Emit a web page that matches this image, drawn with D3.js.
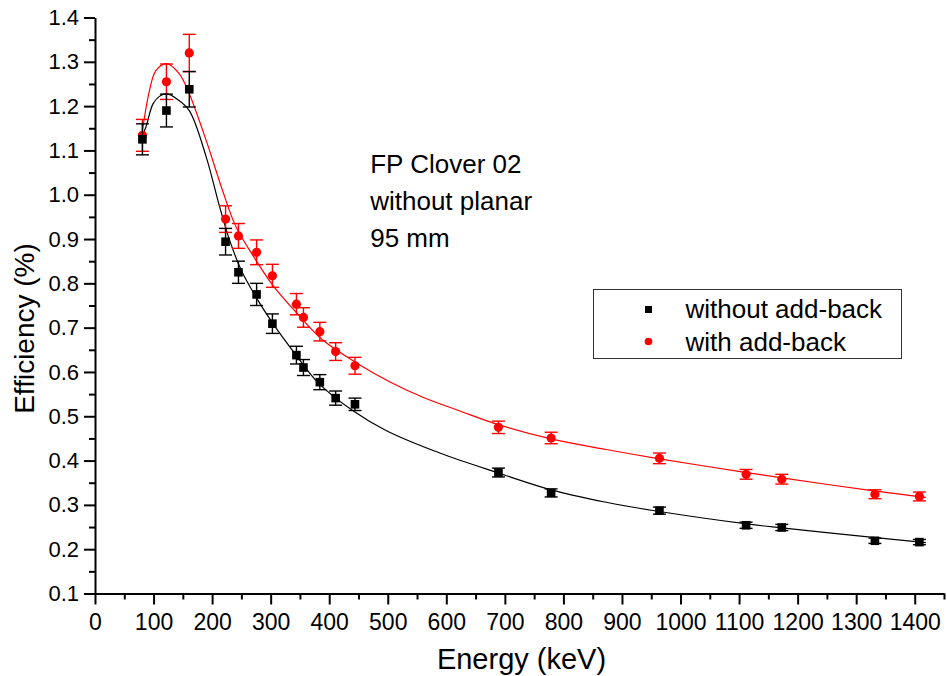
<!DOCTYPE html>
<html>
<head>
<meta charset="utf-8">
<script src="https://cdn.jsdelivr.net/npm/d3@7"></script>
<style>
    body { margin: 0; background: #fff; }
    #chart { width: 947px; height: 676px; }
    text { font-family: "Liberation Sans", Arial, sans-serif; fill: #000; }
</style>
</head>
<body>
<div id="chart"></div>
<script>
// measured points (keV, efficiency %)
const energies = [81, 122, 161, 223, 245, 276, 303, 344, 356, 384, 411, 444, 689, 779, 964, 1112, 1173, 1332, 1408];
const effNoAddback = [1.125, 1.190, 1.238, 0.894, 0.825, 0.775, 0.709, 0.638, 0.610, 0.577, 0.541, 0.527, 0.373, 0.327, 0.287, 0.254, 0.249, 0.219, 0.216];
const errNoAddback = [0.035, 0.037, 0.040, 0.030, 0.025, 0.025, 0.022, 0.020, 0.018, 0.017, 0.016, 0.014, 0.010, 0.009, 0.008, 0.007, 0.007, 0.006, 0.006];
const effAddback = [1.134, 1.255, 1.320, 0.945, 0.907, 0.870, 0.817, 0.753, 0.723, 0.691, 0.646, 0.614, 0.475, 0.451, 0.405, 0.369, 0.358, 0.324, 0.319];
const errAddback = [0.036, 0.040, 0.042, 0.030, 0.028, 0.028, 0.026, 0.024, 0.022, 0.021, 0.020, 0.019, 0.014, 0.013, 0.012, 0.011, 0.011, 0.010, 0.010];

// fit curves
const fitEnergyNoAddback = [81, 87, 99, 110, 122, 140, 161, 190, 213, 230, 250, 275, 304, 344, 383, 440, 497, 589, 689, 779, 873, 964, 1113, 1173, 1333, 1419];
const fitNoAddback = [1.134, 1.153, 1.205, 1.222, 1.228, 1.216, 1.190, 1.085, 0.972, 0.897, 0.829, 0.769, 0.709, 0.637, 0.573, 0.513, 0.468, 0.417, 0.372, 0.334, 0.306, 0.285, 0.257, 0.248, 0.226, 0.215];
const fitEnergyAddback = [81, 93, 104, 122, 144, 161, 190, 218, 241, 275, 304, 346, 389, 446, 503, 560, 623, 689, 779, 873, 964, 1113, 1173, 1333, 1419];
const fitAddback = [1.145, 1.235, 1.280, 1.296, 1.273, 1.228, 1.122, 1.009, 0.927, 0.852, 0.795, 0.731, 0.672, 0.621, 0.578, 0.543, 0.512, 0.481, 0.449, 0.425, 0.404, 0.373, 0.361, 0.331, 0.317];

const xTicks = d3.range(0, 1401, 100);
const yTicks = d3.range(1, 15).map(d => d / 10);

const seriesNames = ["without add-back", "with add-back"];
const annotation = ["FP Clover 02", "without planar", "95 mm"];

class EfficiencyChart {

    constructor(parentElement) {
        this.parentElement = parentElement;
        this.initVis();
    }

    initVis() {
        let vis = this;

        vis.margin = {top: 17.5, right: 3, bottom: 82.5, left: 95};
        vis.width = 947 - vis.margin.left - vis.margin.right;
        vis.height = 676 - vis.margin.top - vis.margin.bottom;

        vis.svg = d3.select("#" + vis.parentElement).append("svg")
            .attr("width", 947)
            .attr("height", 676)
            .append("g")
            .attr("transform", "translate(" + vis.margin.left + "," + vis.margin.top + ")");

        vis.x = d3.scaleLinear().domain([0, 1450]).range([0, vis.width]);
        vis.y = d3.scaleLinear().domain([0.1, 1.4]).range([vis.height, 0]);

        // minor ticks first, then major axes on top
        vis.svg.append("g")
            .attr("class", "axis minor")
            .attr("transform", "translate(0," + vis.height + ")")
            .call(d3.axisBottom(vis.x).tickValues(d3.range(50, 1451, 100)).tickSize(6).tickFormat(""));
        vis.svg.append("g")
            .attr("class", "axis minor")
            .call(d3.axisLeft(vis.y).tickValues(d3.range(0.15, 1.4, 0.1)).tickSize(6).tickFormat(""));

        vis.xAxis = vis.svg.append("g")
            .attr("class", "axis x-axis")
            .attr("transform", "translate(0," + vis.height + ")")
            .call(d3.axisBottom(vis.x).tickValues(xTicks).tickSize(11).tickSizeOuter(0).tickPadding(9)
                .tickFormat(d3.format("d")));
        vis.yAxis = vis.svg.append("g")
            .attr("class", "axis y-axis")
            .call(d3.axisLeft(vis.y).tickValues(yTicks).tickSize(11).tickSizeOuter(0).tickPadding(5)
                .tickFormat(d3.format(".1f")));

        vis.svg.selectAll(".axis path, .axis line")
            .attr("stroke", "#000")
            .attr("stroke-width", 2);
        vis.svg.selectAll(".minor path").remove();
        vis.xAxis.selectAll("text").style("font-size", "23px").attr("dy", "0.71em");
        vis.yAxis.selectAll("text").style("font-size", "22px");

        // axis titles
        vis.svg.append("text")
            .attr("x", vis.width / 2 + 2)
            .attr("y", vis.height + 75)
            .attr("text-anchor", "middle")
            .style("font-size", "29px")
            .text("Energy (keV)");
        vis.svg.append("text")
            .attr("transform", "translate(" + (-61) + "," + (vis.height / 2 + 23) + ") rotate(-90)")
            .attr("text-anchor", "middle")
            .style("font-size", "28px")
            .text("Efficiency (%)");

        vis.line = d3.line()
            .x(d => vis.x(d[0]))
            .y(d => vis.y(d[1]))
            .curve(d3.curveCatmullRom.alpha(0.5));

        vis.updateVis();
    }

    updateVis() {
        let vis = this;

        let fitBlack = d3.zip(fitEnergyNoAddback, fitNoAddback);
        let fitRed = d3.zip(fitEnergyAddback, fitAddback);

        vis.svg.append("path")
            .datum(fitBlack)
            .attr("fill", "none")
            .attr("stroke", "#000")
            .attr("stroke-width", 1.2)
            .attr("d", vis.line);
        vis.svg.append("path")
            .datum(fitRed)
            .attr("fill", "none")
            .attr("stroke", "#ff0000")
            .attr("stroke-width", 1.2)
            .attr("d", vis.line);

        let red = energies.map((e, i) => ({e: e, v: effAddback[i], err: errAddback[i]}));
        let black = energies.map((e, i) => ({e: e, v: effNoAddback[i], err: errNoAddback[i]}));

        vis.drawSeries(red, "#ff0000", "circle");
        vis.drawSeries(black, "#000", "square");

        // annotation
        vis.svg.append("text")
            .attr("x", vis.x(470))
            .attr("y", 155)
            .style("font-size", "26px")
            .selectAll("tspan")
            .data(annotation)
            .enter()
            .append("tspan")
            .attr("x", vis.x(470))
            .attr("dy", (d, i) => i === 0 ? 0 : 37)
            .text(d => d);

        // legend
        let legend = vis.svg.append("g")
            .attr("class", "legend")
            .attr("transform", "translate(" + (593.5 - vis.margin.left) + "," + (289.5 - vis.margin.top) + ")");
        legend.append("rect")
            .attr("width", 308)
            .attr("height", 69)
            .attr("fill", "#fff")
            .attr("stroke", "#333")
            .attr("stroke-width", 1);
        legend.append("rect")
            .attr("x", 55 - 3.5)
            .attr("y", 20 - 3.5)
            .attr("width", 7)
            .attr("height", 7)
            .attr("fill", "#000");
        legend.append("circle")
            .attr("cx", 55)
            .attr("cy", 52)
            .attr("r", 3.8)
            .attr("fill", "#ff0000");
        legend.selectAll(".legend-label")
            .data(seriesNames)
            .enter()
            .append("text")
            .attr("class", "legend-label")
            .attr("x", 92)
            .attr("y", (d, i) => 28 + i * 33)
            .style("font-size", "26px")
            .text(d => d);
    }

    drawSeries(data, color, shape) {
        let vis = this;
        let g = vis.svg.append("g");
        let cap = 6.5;

        let bars = g.selectAll(".err")
            .data(data)
            .enter()
            .append("g")
            .attr("class", "err")
            .attr("stroke", color)
            .attr("stroke-width", 1.4);
        bars.append("line")
            .attr("x1", d => vis.x(d.e)).attr("x2", d => vis.x(d.e))
            .attr("y1", d => vis.y(d.v - d.err)).attr("y2", d => vis.y(d.v + d.err));
        bars.append("line")
            .attr("x1", d => vis.x(d.e) - cap).attr("x2", d => vis.x(d.e) + cap)
            .attr("y1", d => vis.y(d.v + d.err)).attr("y2", d => vis.y(d.v + d.err));
        bars.append("line")
            .attr("x1", d => vis.x(d.e) - cap).attr("x2", d => vis.x(d.e) + cap)
            .attr("y1", d => vis.y(d.v - d.err)).attr("y2", d => vis.y(d.v - d.err));

        if (shape === "circle") {
            g.selectAll(".pt")
                .data(data)
                .enter()
                .append("circle")
                .attr("class", "pt")
                .attr("cx", d => vis.x(d.e))
                .attr("cy", d => vis.y(d.v))
                .attr("r", 4.6)
                .attr("fill", color);
        } else {
            g.selectAll(".pt")
                .data(data)
                .enter()
                .append("rect")
                .attr("class", "pt")
                .attr("x", d => vis.x(d.e) - 4.3)
                .attr("y", d => vis.y(d.v) - 4.3)
                .attr("width", 8.6)
                .attr("height", 8.6)
                .attr("fill", color);
        }
    }
}

new EfficiencyChart("chart");
</script>
</body>
</html>
